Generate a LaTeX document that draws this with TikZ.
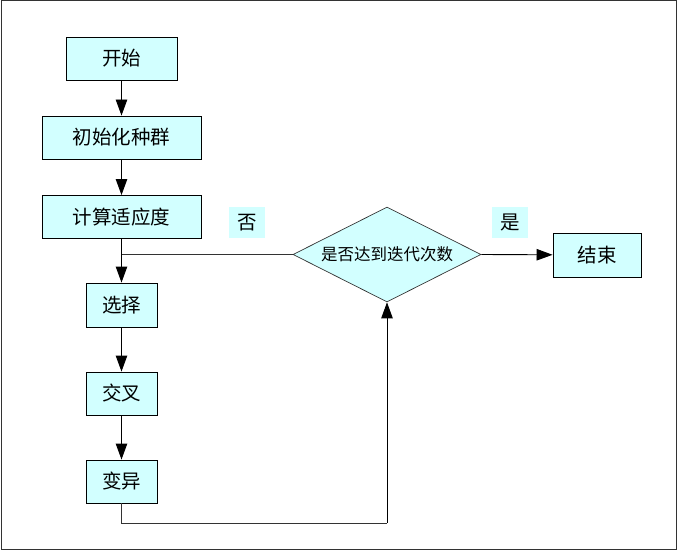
\documentclass[tikz,border=0pt]{standalone}
\usepackage{fontspec}
\usetikzlibrary{arrows.meta,shapes.geometric}
\newfontfamily\cjk{Noto Sans CJK SC}
\definecolor{boxfill}{HTML}{D2FFFF}
\definecolor{edge}{HTML}{333333}
\tikzset{
  stepbox/.style={draw=black,line width=0.9pt,fill=boxfill,minimum height=43pt,inner sep=0pt,font=\cjk\fontsize{19.5}{21}\selectfont},
  decide/.style={diamond,draw=edge,line width=0.7pt,fill=boxfill,minimum width=188pt,minimum height=95pt,inner sep=0pt,aspect=2,font=\cjk\fontsize{16.5}{18}\selectfont},
  flow/.style={draw=black,line width=0.9pt,-{Triangle[length=16pt,width=11.5pt]}},
  plain/.style={draw=edge,line width=0.9pt},
  tag/.style={fill=boxfill,minimum width=36pt,minimum height=31pt,inner sep=0pt,font=\cjk\fontsize{19.5}{21}\selectfont}
}
\begin{document}
\begin{tikzpicture}[x=1pt,y=-1pt]
\useasboundingbox (0,0) rectangle (678,551);
\draw[draw=edge,line width=1pt] (1,1) rectangle (676.5,549.5);
\node[stepbox,minimum width=111pt] (start) at (121.5,58.5) {开始};
\node[stepbox,minimum width=159pt] (init) at (121.5,137.5) {初始化种群};
\node[stepbox,minimum width=159pt] (fit) at (121.5,217) {计算适应度};
\node[stepbox,minimum width=71pt,minimum height=44pt] (sel) at (121.5,305) {选择};
\node[stepbox,minimum width=71pt] (cross) at (121.5,393.5) {交叉};
\node[stepbox,minimum width=71pt] (mut) at (121.5,481.5) {变异};
\node[decide] (dec) at (387,254.5) {是否达到迭代次数};
\node[stepbox,minimum width=88pt,minimum height=44pt] (end) at (597,255) {结束};
\node[tag] (no) at (247,222.5) {否};
\node[tag] (yes) at (510,222.5) {是};
\coordinate (j) at (121.5,254.5);
\coordinate (b1) at (121.5,523);
\coordinate (b2) at (387,523);
\draw[flow] (start) -- (init);
\draw[flow] (init) -- (fit);
\draw[flow] (fit) -- (sel);
\draw[plain] (dec.west) -- (j);
\draw[flow] (dec.east) -- (end);
\draw[flow] (sel) -- (cross);
\draw[flow] (cross) -- (mut);
\draw[plain] (mut.south) -- (b1) -- (b2);
\draw[flow] (b2) -- (dec.south);
\end{tikzpicture}
\end{document}
